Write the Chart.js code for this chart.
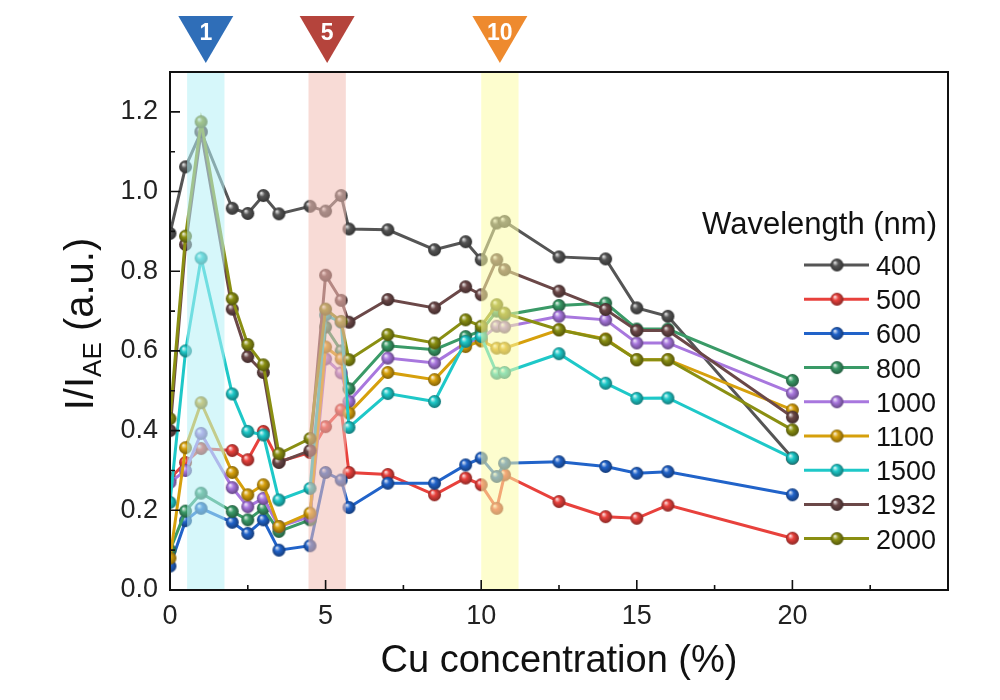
<!DOCTYPE html>
<html>
<head>
<meta charset="utf-8">
<script src="https://cdn.jsdelivr.net/npm/chart.js@4.4.0/dist/chart.umd.min.js"></script>
<style>
  html, body { margin: 0; padding: 0; background: #fff; }
  #chart { display: block; }
</style>
</head>
<body>
<canvas id="chart" width="1000" height="700"></canvas>
<script>
// Cu concentration (%) of every sample
const cuConc = [0, 0.5, 1, 2, 2.5, 3, 3.5, 4.5, 5, 5.5, 5.75, 7, 8.5, 9.5, 10, 10.5, 10.75, 12.5, 14, 15, 16, 20];

// legend labels, wavelength in nm
const wavelengths = ["400", "500", "600", "800", "1000", "1100", "1500", "1932", "2000"];

// I / I_AE values per wavelength
const ratio400  = [0.895, 1.062, 1.15, 0.958, 0.945, 0.99, 0.944, 0.963, 0.951, 0.99, 0.906, 0.904, 0.854, 0.874, 0.829, 0.921, 0.925, 0.836, 0.831, 0.708, 0.687, 0.331];
const ratio500  = [0.28, 0.32, 0.355, 0.35, 0.327, 0.398, 0.322, 0.345, 0.41, 0.452, 0.295, 0.29, 0.239, 0.281, 0.264, 0.205, 0.289, 0.222, 0.184, 0.18, 0.213, 0.13];
const ratio600  = [0.06, 0.174, 0.205, 0.17, 0.142, 0.176, 0.10, 0.111, 0.295, 0.276, 0.207, 0.268, 0.268, 0.314, 0.331, 0.285, 0.318, 0.322, 0.31, 0.293, 0.297, 0.239];
const ratio800  = [0.10, 0.198, 0.243, 0.197, 0.176, 0.205, 0.147, 0.176, 0.66, 0.60, 0.505, 0.613, 0.603, 0.636, 0.65, 0.70, 0.69, 0.714, 0.72, 0.655, 0.655, 0.526];
const ratio1000 = [0.27, 0.30, 0.393, 0.257, 0.209, 0.23, 0.159, 0.184, 0.58, 0.545, 0.473, 0.582, 0.57, 0.62, 0.63, 0.662, 0.66, 0.687, 0.678, 0.62, 0.62, 0.494];
const ratio1100 = [0.08, 0.357, 0.47, 0.295, 0.239, 0.264, 0.159, 0.193, 0.61, 0.58, 0.444, 0.546, 0.528, 0.611, 0.625, 0.607, 0.607, 0.653, 0.63, 0.578, 0.578, 0.452];
const ratio1500 = [0.22, 0.60, 0.833, 0.492, 0.398, 0.389, 0.226, 0.255, 0.69, 0.672, 0.408, 0.493, 0.473, 0.624, 0.636, 0.544, 0.546, 0.593, 0.519, 0.481, 0.482, 0.331];
const ratio1932 = [0.40, 0.867, 1.15, 0.705, 0.586, 0.546, 0.32, 0.35, 0.79, 0.727, 0.672, 0.729, 0.708, 0.761, 0.741, 0.829, 0.804, 0.75, 0.704, 0.651, 0.651, 0.434];
const ratio2000 = [0.43, 0.888, 1.175, 0.731, 0.616, 0.565, 0.342, 0.38, 0.705, 0.674, 0.578, 0.641, 0.62, 0.678, 0.662, 0.716, 0.695, 0.653, 0.628, 0.578, 0.578, 0.402];

const allRatios = [ratio400, ratio500, ratio600, ratio800, ratio1000, ratio1100, ratio1500, ratio1932, ratio2000];

// highlighted samples (shaded bands + markers on top)
const bandRanges = [[0.55, 1.75], [4.45, 5.65], [10.0, 11.2]];
const bandLabels = ["1", "5", "10"];

const lineColors = ["#555555", "#e8413c", "#2163c9", "#3a9a67", "#a877de", "#d6a00c", "#1ec8c8", "#6b4848", "#8a8f12"];
const bandColors = ["rgba(180,240,246,0.55)", "rgba(243,190,180,0.55)", "rgba(252,252,165,0.55)"];
const markerColors = ["#2f6eb8", "#b5443c", "#ee8a2e"];

const FONT = "'Liberation Sans', Arial, sans-serif";

// darken / lighten a hex colour
function shade(hex, f) {
  const n = parseInt(hex.slice(1), 16);
  let r = (n >> 16) & 255, g = (n >> 8) & 255, b = n & 255;
  if (f < 0) { r *= 1 + f; g *= 1 + f; b *= 1 + f; }
  else { r += (255 - r) * f; g += (255 - g) * f; b += (255 - b) * f; }
  return "rgb(" + Math.round(r) + "," + Math.round(g) + "," + Math.round(b) + ")";
}

// small shaded ball used as point style
function makeBall(color, r) {
  const s = Math.ceil(r * 2 + 2);
  const c = document.createElement("canvas");
  c.width = s; c.height = s;
  const g = c.getContext("2d");
  const cx = s / 2, cy = s / 2;
  const grad = g.createRadialGradient(cx - r * 0.35, cy - r * 0.4, r * 0.05, cx, cy, r);
  grad.addColorStop(0, shade(color, 0.85));
  grad.addColorStop(0.4, color);
  grad.addColorStop(1, shade(color, -0.4));
  g.fillStyle = grad;
  g.beginPath();
  g.arc(cx, cy, r, 0, Math.PI * 2);
  g.fill();
  return c;
}

const balls = lineColors.map(c => makeBall(c, 6.5));

const datasets = allRatios.map((vals, i) => ({
  label: wavelengths[i],
  data: vals.map((v, k) => ({ x: cuConc[k], y: v })),
  borderColor: lineColors[i],
  backgroundColor: lineColors[i],
  borderWidth: 3,
  pointStyle: balls[i],
  pointRadius: 6,
  tension: 0,
  order: allRatios.length - 1 - i
}));

// bands drawn over the data so points inside look washed out, like the original
const bandPlugin = {
  id: "bands",
  afterDatasetsDraw(chart) {
    const { ctx, chartArea: a, scales: { x } } = chart;
    ctx.save();
    bandRanges.forEach((r, i) => {
      const x0 = x.getPixelForValue(r[0]);
      const x1 = x.getPixelForValue(r[1]);
      ctx.fillStyle = bandColors[i];
      ctx.fillRect(x0, a.top, x1 - x0, a.bottom - a.top);
    });
    ctx.restore();
  }
};

// frame, inward ticks, top markers, legend and y title
const decorPlugin = {
  id: "decor",
  afterDraw(chart) {
    const { ctx, chartArea: a, scales: { x, y } } = chart;
    ctx.save();

    // frame
    ctx.strokeStyle = "#111";
    ctx.lineWidth = 2;
    ctx.strokeRect(a.left, a.top, a.right - a.left, a.bottom - a.top);

    // x ticks (major every 5, minor every 2.5)
    ctx.lineWidth = 1.6;
    ctx.beginPath();
    for (let v = 2.5; v <= 22.5; v += 2.5) {
      const px = x.getPixelForValue(v);
      const len = (v % 5 === 0) ? 10 : 5;
      ctx.moveTo(px, a.bottom);
      ctx.lineTo(px, a.bottom - len);
    }
    // y ticks (major every 0.2, minor every 0.1)
    for (let k = 1; k <= 12; k++) {
      const py = y.getPixelForValue(k / 10);
      const len = (k % 2 === 0) ? 10 : 5;
      ctx.moveTo(a.left, py);
      ctx.lineTo(a.left + len, py);
    }
    ctx.stroke();

    // triangles above the bands
    bandRanges.forEach((r, i) => {
      const cx = x.getPixelForValue((r[0] + r[1]) / 2);
      ctx.fillStyle = markerColors[i];
      ctx.beginPath();
      ctx.moveTo(cx - 27.5, 16);
      ctx.lineTo(cx + 27.5, 16);
      ctx.lineTo(cx, 63);
      ctx.closePath();
      ctx.fill();
      ctx.fillStyle = "#fff";
      ctx.font = "bold 23px " + FONT;
      ctx.textAlign = "center";
      ctx.textBaseline = "middle";
      ctx.fillText(bandLabels[i], cx, 34);
    });

    // legend
    ctx.fillStyle = "#111";
    ctx.font = "31px " + FONT;
    ctx.textAlign = "right";
    ctx.textBaseline = "alphabetic";
    ctx.fillText("Wavelength (nm)", 937, 234);
    ctx.font = "27px " + FONT;
    ctx.textAlign = "left";
    wavelengths.forEach((w, i) => {
      const cy = 265 + i * 34.2;
      ctx.strokeStyle = lineColors[i];
      ctx.lineWidth = 3;
      ctx.beginPath();
      ctx.moveTo(804, cy);
      ctx.lineTo(869, cy);
      ctx.stroke();
      const b = balls[i];
      ctx.drawImage(b, 837 - b.width / 2, cy - b.height / 2);
      ctx.fillStyle = "#111";
      ctx.fillText(w, 876, cy + 10);
    });

    // y axis title with subscript
    ctx.translate(93, 324);
    ctx.rotate(-Math.PI / 2);
    const mainFont = "40px " + FONT, subFont = "26px " + FONT;
    ctx.font = mainFont;
    const w1 = ctx.measureText("I/I").width;
    const w3 = ctx.measureText(" (a.u.)").width;
    ctx.font = subFont;
    const w2 = ctx.measureText("AE").width;
    let sx = -(w1 + w2 + w3) / 2;
    ctx.fillStyle = "#111";
    ctx.textAlign = "left";
    ctx.font = mainFont;
    ctx.fillText("I/I", sx, 0);
    sx += w1;
    ctx.font = subFont;
    ctx.fillText("AE", sx, 8);
    sx += w2;
    ctx.font = mainFont;
    ctx.fillText(" (a.u.)", sx, 0);

    ctx.restore();
  }
};

new Chart(document.getElementById("chart"), {
  type: "line",
  data: { datasets },
  options: {
    responsive: false,
    animation: false,
    layout: { padding: { top: 72, right: 52, left: 0, bottom: 0 } },
    plugins: {
      legend: { display: false },
      tooltip: { enabled: false }
    },
    scales: {
      x: {
        type: "linear",
        min: 0,
        max: 25,
        grid: { display: false, drawTicks: false },
        border: { display: false },
        ticks: {
          stepSize: 5,
          padding: 10,
          color: "#222",
          font: { family: FONT, size: 27 },
          callback: v => (v > 20 ? "" : v)
        },
        title: {
          display: true,
          text: "Cu concentration (%)",
          color: "#111",
          font: { family: FONT, size: 38 },
          padding: { top: 0, bottom: 16 }
        },
        afterFit: s => { s.height = 110; }
      },
      y: {
        min: 0,
        max: 1.3,
        grid: { display: false, drawTicks: false },
        border: { display: false },
        ticks: {
          stepSize: 0.2,
          padding: 12,
          color: "#222",
          font: { family: FONT, size: 27 },
          callback: v => (Math.round(v * 10) % 2 === 0 ? v.toFixed(1) : "")
        },
        afterFit: s => { s.width = 170; }
      }
    }
  },
  plugins: [bandPlugin, decorPlugin]
});
</script>
</body>
</html>
